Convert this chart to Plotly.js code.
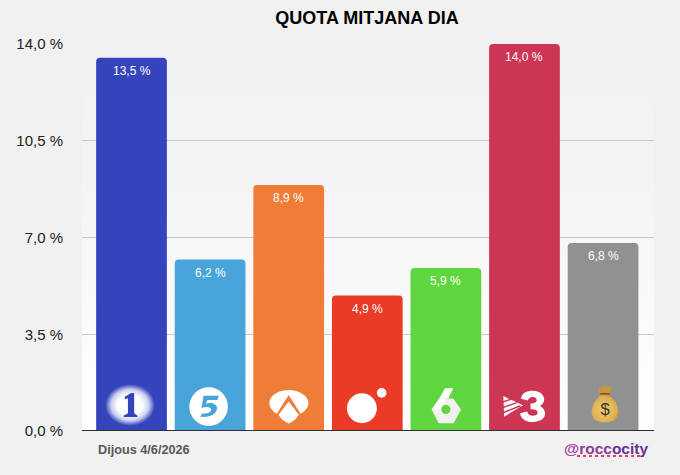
<!DOCTYPE html>
<html>
<head>
<meta charset="utf-8">
<script src="https://cdn.plot.ly/plotly-3.0.1.min.js"></script>
<style>html,body{margin:0;padding:0;background:#f1f1f1}#c{width:680px;height:475px}</style>
</head>
<body>
<div id="c"></div>
<script>
var channels = ["TVE1","Telecinco","Antena 3","Cuatro","La Sexta","TV3","Altres"];
var values = [13.5,6.2,8.9,4.9,5.9,14.0,6.8];
var valueLabels = ["13,5 %","6,2 %","8,9 %","4,9 %","5,9 %","14,0 %","6,8 %"];
var colors = ["#3445BC","#48A4D9","#EF7D38","#EA3B26","#5FD63F","#CC3654","#919191"];
var tickVals = [0,3.5,7,10.5,14];
var tickText = ["0,0 %","3,5 %","7,0 %","10,5 %","14,0 %"];

function svg(inner){
  return "data:image/svg+xml;charset=utf-8," + encodeURIComponent(
    '<svg xmlns="http://www.w3.org/2000/svg" width="200" height="200" viewBox="0 0 100 100">' + inner + '</svg>');
}
var logos = [
  '<defs><radialGradient id="g"><stop offset="0.5" stop-color="#fff"/><stop offset="0.75" stop-color="#fff" stop-opacity="0.75"/><stop offset="1" stop-color="#fff" stop-opacity="0"/></radialGradient></defs>'+
  '<ellipse cx="50" cy="50" rx="48" ry="40" fill="url(#g)"/>'+
  '<path d="M40 34 L52 27 L58 27 L58 66 L64 70 L64 73 L38 73 L38 70 L46 66 L46 37 L40 39 Z" fill="#3445BC"/>',
  '<circle cx="50" cy="50" r="46" fill="#fff"/>'+
  '<path d="M38 24 L74 24 L71 34 L47 34 L44 43 C58 38 71 44 70 55 C68 70 50 76 30 74 L34 66 C46 68 56 64 56 57 C56 51 46 49 33 53 Z" fill="#48A4D9"/>'+
  '<path d="M35 55 C44 52 51 54 51 58 C51 62 44 65 36 62 Z" fill="#fff"/>',
  '<path d="M50 12 C72 12 95 24 95 42 C95 50 88 60 77 66 L50 23.5 L23 66 C12 60 6 50 6 42 C6 24 28 12 50 12 Z" fill="#fff"/>'+
  '<path d="M50 38 L73 68 Q65 82 50 88 Q35 82 27 68 Z" fill="#fff"/>',
  '<circle cx="40" cy="60" r="34" fill="#fff"/><circle cx="85" cy="25" r="11" fill="#fff"/>',
  '<path d="M19 58 L35.5 34 L66 34 L83 58 L67 88 L34 88 Z" fill="#f1f1f1"/>'+
  '<path d="M19 58 L35.5 34 L50 34 L50 58 Z" fill="#fff"/>'+
  '<path d="M48 12 L66 12 L55 34 L35.5 34 Z" fill="#fff"/>'+
  '<circle cx="50" cy="58" r="10" fill="#5FD63F"/>',
  '<path d="M3 27 L48 48 L5 74 Z" fill="#fff"/>'+
  '<path d="M0 41 L24 33 M0 54 L34 42 M0 66 L42 49" stroke="#CC3654" stroke-width="3.5" fill="none"/>'+
  '<path d="M43 33 C45 20 56 15 70 15 C86 15 96 24 96 35 C96 42 91 47 86 50 C93 53 98 59 98 67 C98 79 86 86 70 86 C54 86 43 79 41 66 L57 62 C59 68 63 72 70 72 C77 72 81 69 81 65 C81 59 76 57 65 57 L65 44 C75 44 79 41 79 36 C79 31 75 29 70 29 C64 29 60 32 59 37 Z" fill="#fff"/>',
  '<defs><radialGradient id="m" cx="0.45" cy="0.55" r="0.65"><stop offset="0" stop-color="#F1CB74"/><stop offset="0.75" stop-color="#DDAE52"/><stop offset="1" stop-color="#A87B2C"/></radialGradient></defs>'+
  '<path d="M38 24 C30 12 32 2 38 7 C43 1 57 1 62 7 C68 2 70 12 62 24 Z" fill="#C8963F"/>'+
  '<rect x="37" y="21" width="26" height="5" rx="2" fill="#7A5A1E"/>'+
  '<path d="M39 26 C24 40 13 56 15 75 C17 94 33 98 50 98 C67 98 83 94 85 75 C87 56 76 40 61 26 Z" fill="url(#m)"/>'+
  '<text x="50" y="80" text-anchor="middle" font-family="Liberation Sans" font-size="44" fill="#3f3524">$</text>'
];
var logoSizes = [52,42,44,44,46,44,38];
var logoY = [0.94,0.88,0.878,0.98,0.914,0.90,0.98];
var logoDx = [-1.5,-1.5,0,-1,0,-0.5,2];

var pxY = 387.5/14, pxX = 78.6;
var images = [{
  source: "data:image/svg+xml;charset=utf-8," + encodeURIComponent('<svg xmlns="http://www.w3.org/2000/svg" width="10" height="100" preserveAspectRatio="none"><defs><linearGradient id="b" x1="0" y1="0" x2="0" y2="1"><stop offset="0" stop-color="#f1f1f1"/><stop offset="0.35" stop-color="#f4f4f4"/><stop offset="1" stop-color="#ffffff"/></linearGradient></defs><rect width="10" height="100" fill="url(#b)"/></svg>'),
  xref:"paper", yref:"paper", x:0, y:1, sizex:1, sizey:1, sizing:"stretch", xanchor:"left", yanchor:"top", layer:"below"
}];
logos.forEach(function(l,i){
  images.push({source:svg(l), xref:"x", yref:"y", x:i+logoDx[i]/pxX, y:logoY[i],
    sizex:logoSizes[i]/pxX, sizey:logoSizes[i]/pxY, xanchor:"center", yanchor:"middle", layer:"above", sizing:"contain"});
});
var xs = channels.map(function(_,i){return i;});
var labelAnn = xs.map(function(i){
  return {text:valueLabels[i], xref:"x", yref:"y", x:i, y:values[i], yshift:-13, xanchor:"center", yanchor:"middle", showarrow:false,
    font:{family:"Liberation Sans, Arial, sans-serif", size:12, color:"#ffffff"}};
});

var trace = {
  type:"bar", x:xs, y:values, width:0.9,
  marker:{color:colors, cornerradius:4, line:{width:0}},
  hoverinfo:"skip"
};
var layout = {
  width:680, height:475,
  margin:{l:82,r:26,t:43.5,b:44, pad:0},
  paper_bgcolor:"#f1f1f1", plot_bgcolor:"rgba(0,0,0,0)",
  showlegend:false,
  title:{text:"QUOTA MITJANA DIA", x:367/680, xanchor:"center", y:1-18/475, yanchor:"middle",
    font:{family:"Liberation Sans, Arial, sans-serif", size:18, color:"#000", weight:700}},
  xaxis:{range:[-0.63,6.648], showgrid:false, showticklabels:false, ticks:"", zeroline:false, showline:false, fixedrange:true},
  yaxis:{range:[0,14], tickvals:tickVals, ticktext:tickText, ticks:"", ticklabelstandoff:18,
    tickfont:{family:"Liberation Sans, Arial, sans-serif", size:15, color:"#222"},
    gridcolor:"#c9c9c9", gridwidth:1, zeroline:false, showline:false, fixedrange:true},
  images:images,
  shapes:[
    {type:"line", xref:"paper", yref:"y", x0:0, x1:1, y0:0, y1:0, line:{color:"#2f2f33", width:2}, layer:"above"},
    {type:"line", xref:"paper", yref:"paper", x0:(577-82)/572, x1:(644-82)/572, y0:-25/387.5, y1:-25/387.5, line:{color:"#E0405A", width:2, dash:"dot"}}
  ],
  annotations:labelAnn.concat([
    {text:"<b>Dijous 4/6/2026</b>", xref:"paper", yref:"paper", x:(96-82)/572, y:-19/387.5, xanchor:"left", yanchor:"middle", showarrow:false,
      font:{family:"Liberation Sans, Arial, sans-serif", size:12.7, color:"#585858"}},
    {text:'<b><span style="color:#A845A8">@</span><span style="color:#8E3A9E">rocc</span><span style="color:#6E2F96">ocity</span></b>', xref:"paper", yref:"paper", x:(650-82)/572, y:-18/387.5, xanchor:"right", yanchor:"middle", showarrow:false,
      font:{family:"Liberation Sans, Arial, sans-serif", size:15.5, color:"#7a3398"}}
  ])
};
Plotly.newPlot("c",[trace],layout,{displayModeBar:false,staticPlot:true});
</script>
</body>
</html>
